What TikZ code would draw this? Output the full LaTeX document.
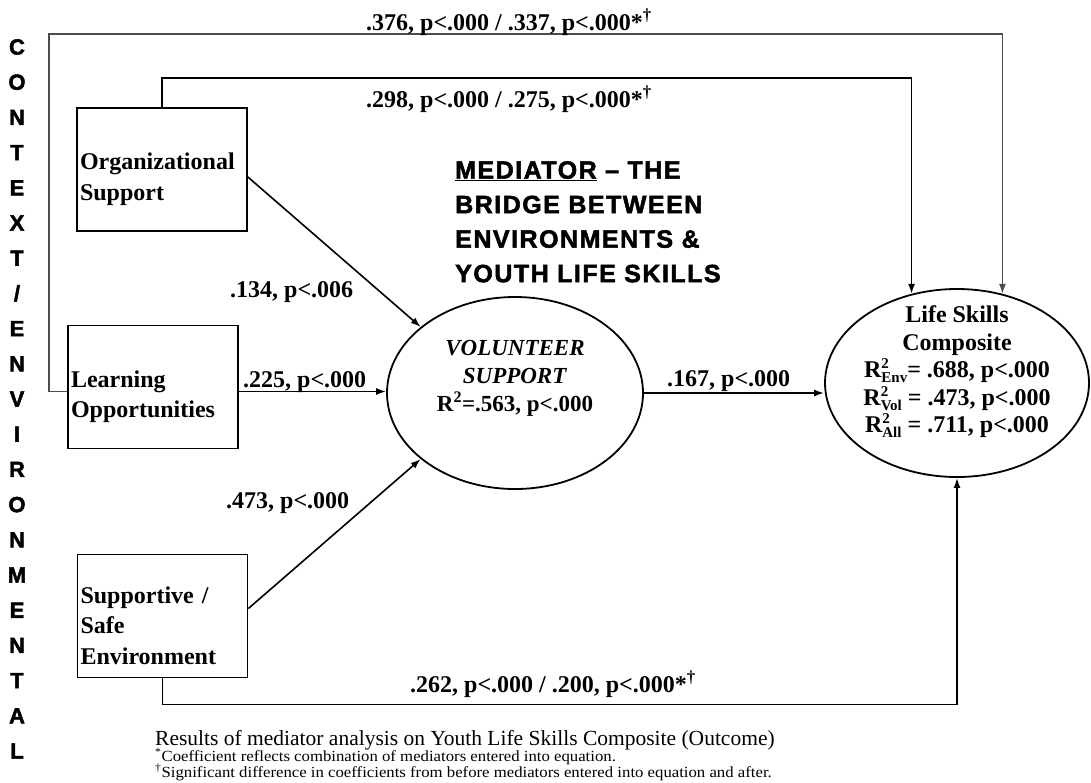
\documentclass[tikz,border=0pt]{standalone}
\usepackage{fontspec}
\setmainfont{Liberation Serif}
\setsansfont{Liberation Sans}
\usepackage{tikz}
\usetikzlibrary{arrows.meta, positioning, calc, shapes.geometric}
\newcommand{\rsq}[1]{R\rlap{\raisebox{9pt}{\fontsize{15}{15}\selectfont 2}}\raisebox{-5pt}{\fontsize{15}{15}\selectfont #1}}
\newcommand{\lowtop}{\rule{0pt}{36pt}}

\begin{document}
\begin{tikzpicture}[
  x=1pt, y=-1pt,
  > = {Latex[length=10pt,width=7pt]},
  box/.style = {draw, line width=1.8pt, text width=164pt, minimum height=123pt, inner xsep=3pt, inner ysep=2pt, align=left, font=\fontsize{24}{30.5}\selectfont\bfseries},
  oval/.style = {draw, ellipse, line width=1.8pt},
  coef/.style = {anchor=base west, inner sep=0pt, font=\fontsize{24}{28}\selectfont\bfseries},
  note/.style = {anchor=base west, inner sep=0pt, font=\fontsize{15.5}{16}\selectfont},
  link/.style = {->, line width=1.6pt},
  side/.style = {inner sep=0pt, font=\sffamily\bfseries\fontsize{22}{22}\selectfont\addfontfeatures{FakeBold=2}}
  ]
  \useasboundingbox (0,0) rectangle (1091,782);
  \foreach \ch [count=\i from 0] in {C,O,N,T,E,X,T,/,E,N,V,I,R,O,N,M,E,N,T,A,L}
    \node[side] (@s\i) at (17,47+35.2*\i) {\ch};

  \node[box] (@org) at (162,169.5) {\lowtop Organizational\\Support};
  \node[box] (@learn) at (153,387) {\lowtop Learning\\Opportunities};
  \node[box] (@safe) at (162.5,616) {\lowtop Supportive /\\Safe\\Environment};

  \node[oval, minimum width=256pt, minimum height=192pt] (@vol) at (515,393) {};
  \node[align=center, font=\fontsize{23}{28}\selectfont\bfseries] (@voltxt) at (515,378)
    {\textit{VOLUNTEER}\\\textit{SUPPORT}\\R\textsuperscript{2}=.563, p<.000};
  \node[oval, minimum width=264pt, minimum height=188pt] (@life) at (957,383) {};
  \node[align=center, font=\fontsize{24}{27.5}\selectfont\bfseries] (@lifetxt) at (957,372)
    {Life Skills\\Composite\\\rsq{Env}= .688, p<.000\\\rsq{Vol} = .473, p<.000\\\rsq{All} = .711, p<.000};

  \node[anchor=north west, align=left, inner sep=0pt, font={\sffamily\bfseries\fontsize{25}{34.5}\selectfont\addfontfeatures{LetterSpace=6,FakeBold=2}}] (@title) at (455,161)
    {\underline{MEDIATOR} – THE\\BRIDGE BETWEEN\\ENVIRONMENTS \&\\YOUTH LIFE SKILLS};

  \coordinate (@top) at (49,34);
  \draw[link, draw=black!70, line width=1.4pt] (@learn.183) -| (@top) -| (@life.63);
  \draw[link] (@org.north) -- ++(0,-29) -| (@life.117);
  \draw[link] (@safe.south) -- ++(0,26) -| (@life.south);
  \draw[link] (@org.-5) -- (@vol.145);
  \draw[link] (@learn.-3) -- (@learn.-3 -| @vol.west);
  \draw[link] (@safe.5) -- (@vol.215);
  \draw[link] (@vol.east) -- (@vol.east -| @life.west);

  \node[coef] (@c1) at (366,30) {.376, p<.000 / .337, p<.000*\textsuperscript{\dag}};
  \node[coef] (@c2) at (366,107) {.298, p<.000 / .275, p<.000*\textsuperscript{\dag}};
  \node[coef] (@c3) at (230,297) {.134, p<.006};
  \node[coef] (@c4) at (243,387) {.225, p<.000};
  \node[coef] (@c5) at (226,508) {.473, p<.000};
  \node[coef] (@c6) at (667,386) {.167, p<.000};
  \node[coef] (@c7) at (410,692) {.262, p<.000 / .200, p<.000*\textsuperscript{\dag}};

  \node[anchor=base west, inner sep=0pt, font=\fontsize{21.5}{24}\selectfont] (@caption) at (155,745)
    {Results of mediator analysis on Youth Life Skills Composite (Outcome)};
  \node[note] (@note1) at (155,761)
    {\scalebox{1.08}[1]{\textsuperscript{*}Coefficient reflects combination of mediators entered into equation.}};
  \node[note] (@note2) at (155,777)
    {\scalebox{1.08}[1]{\textsuperscript{\dag}Significant difference in coefficients from before mediators entered into equation and after.}};
\end{tikzpicture}
\end{document}
